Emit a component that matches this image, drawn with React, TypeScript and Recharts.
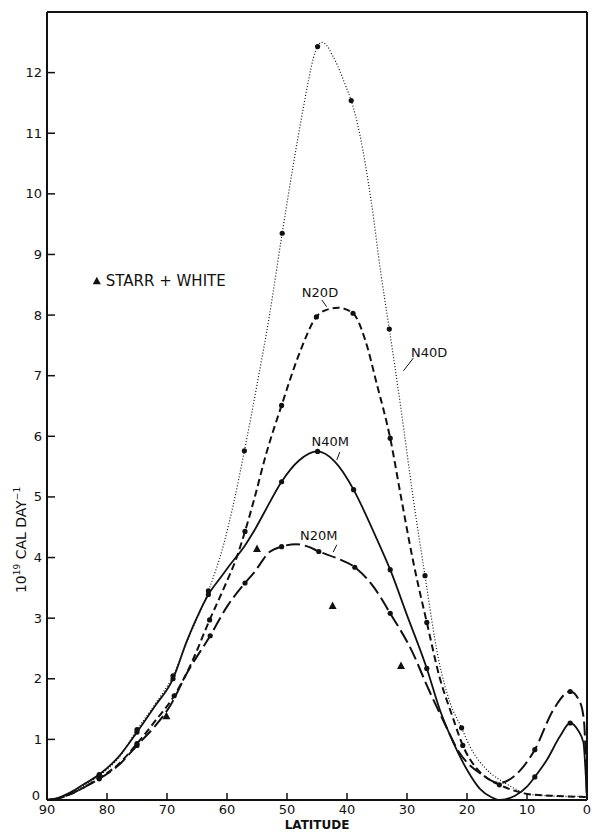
import { ComposedChart, Line, XAxis, YAxis, Scatter, ReferenceDot, ReferenceLine } from 'recharts';

type Pt = { lat: number; v: number; m?: boolean };

const latTicks = [90, 80, 70, 60, 50, 40, 30, 20, 10, 0];
const valTicks = [0, 1, 2, 3, 4, 5, 6, 7, 8, 9, 10, 11, 12];

const pts = (rows: (number | boolean)[][]): Pt[] =>
  rows.map((r) => ({ lat: r[0] as number, v: r[1] as number, m: !!r[2] }));

// N40D, dotted
const n40d = pts([
  [90, 0], [88, 0.04], [86, 0.12], [84, 0.23], [81.3, 0.4, true], [78, 0.7], [75, 1.16, true],
  [72, 1.58], [69, 2.05, true], [66.5, 2.65], [63.1, 3.45, true], [60.6, 4.2], [59, 4.85],
  [57.1, 5.76, true], [55, 6.85], [53, 7.95], [50.8, 9.35, true], [49, 10.45], [47.5, 11.3],
  [46.4, 11.88], [45.6, 12.24], [44.9, 12.43, true], [44.2, 12.5], [43.4, 12.45], [42.5, 12.3],
  [41.5, 12.1], [40.3, 11.8], [39.3, 11.54, true], [37.8, 10.95], [36, 9.9], [34.3, 8.65],
  [32.95, 7.77, true], [31, 6.45], [29, 5.0], [27, 3.7, true], [24.8, 2.35], [22.8, 1.6],
  [20.9, 1.19, true], [19.5, 0.88], [16.7, 0.5], [14, 0.3], [11.7, 0.17], [10, 0.1], [8, 0.08],
  [4, 0.06], [1, 0.06], [0, 0.05],
]);

// N20D, short dashes
const n20d = pts([
  [90, 0], [88, 0.03], [86, 0.1], [84, 0.2], [81.3, 0.36, true], [78, 0.6], [75, 0.93, true],
  [72, 1.3], [68.8, 1.72, true], [66.2, 2.2], [62.9, 2.97, true], [60.5, 3.5], [58.4, 4.0],
  [57, 4.43, true], [55.5, 4.95], [53.5, 5.7], [50.9, 6.51, true], [48, 7.35], [45.1, 7.97, true],
  [43, 8.1], [41.5, 8.12], [39, 8.03, true], [37, 7.6], [35, 6.85], [32.8, 5.97, true],
  [31, 5.0], [29, 3.95], [26.7, 2.93, true], [24.5, 2.0], [22.5, 1.4], [20.7, 0.9, true],
  [18.4, 0.52], [16.5, 0.35], [14.6, 0.25, true], [12, 0.15], [10, 0.1], [6, 0.07], [0, 0.05],
]);

// N40M, solid
const n40m = pts([
  [90, 0], [88, 0.04], [86, 0.13], [84, 0.25], [81.3, 0.42, true], [78, 0.72], [75, 1.12, true],
  [72, 1.55], [69, 2.0, true], [66.7, 2.62], [64.5, 3.12], [63.1, 3.39, true], [61, 3.68],
  [59.5, 3.88], [57, 4.2], [55.6, 4.42], [53.7, 4.76], [50.9, 5.25, true], [48, 5.6],
  [44.9, 5.75, true], [42, 5.58], [38.9, 5.12, true], [37.3, 4.8], [35, 4.3], [32.8, 3.8, true],
  [30, 3.05], [26.7, 2.17, true], [24.5, 1.48], [22.3, 0.95], [20, 0.5], [17.8, 0.18], [16, 0.05],
  [14.5, 0], [12, 0.07], [10, 0.22], [8.7, 0.38, true], [6.7, 0.66], [4.5, 1.05], [2.8, 1.27, true],
  [1.5, 1.15], [0.6, 0.95], [0.2, 0.4], [0, 0],
]);

// N20M, long dashes
const n20m = pts([
  [90, 0], [88, 0.03], [86, 0.1], [84, 0.2], [81.3, 0.35, true], [78, 0.58], [75, 0.9, true],
  [72, 1.22], [69.5, 1.55], [66.7, 2.09], [62.8, 2.71, true], [60, 3.19], [57, 3.58, true],
  [55.6, 3.74], [52.8, 4.1], [50.9, 4.18, true], [48.5, 4.22], [46.5, 4.18], [44.7, 4.1, true],
  [41.5, 3.98], [38.7, 3.84, true], [35.6, 3.52], [32.8, 3.08, true], [29, 2.42], [26.6, 1.87],
  [24, 1.32], [21.2, 0.77], [17.8, 0.44], [14.5, 0.28], [12.3, 0.38], [8.7, 0.83, true],
  [5.6, 1.49], [2.8, 1.79, true], [1.2, 1.62], [0.5, 1.3], [0.15, 0.5], [0, 0],
]);

// Starr + White
const starrWhite: Pt[] = [
  { lat: 70.1, v: 1.38 }, { lat: 55, v: 4.14 }, { lat: 42.4, v: 3.2 }, { lat: 31, v: 2.21 },
];

const curveNames = [
  { name: 'N40D', lat: 26.3, v: 7.38, lead: [[28.95, 7.29], [30.6, 7.08]] },
  { name: 'N20D', lat: 44.5, v: 8.38, lead: [[44.2, 8.25], [43.4, 8.14]] },
  { name: 'N40M', lat: 42.8, v: 5.91, lead: [[41.2, 5.74], [41.7, 5.61]] },
  { name: 'N20M', lat: 44.7, v: 4.37, lead: [[41.7, 4.21], [42.3, 4.09]] },
];

const INK = '#111';
const FONT = '"DejaVu Sans", sans-serif';

const Marker = (p: any) =>
  p.payload && p.payload.m ? (
    <circle key={p.index} cx={p.cx} cy={p.cy} r={2.6} fill={INK} />
  ) : (
    <g key={p.index} />
  );

const Tri = (p: any) => (
  <polygon
    points={`${p.cx},${p.cy - 4.5} ${p.cx - 4},${p.cy + 3} ${p.cx + 4},${p.cy + 3}`}
    fill={INK}
  />
);

// y tick labels; the 0 sits a little up and left so it clears the 90
const YTick = ({ x, y, payload }: any) => {
  const zero = payload.value === 0;
  return (
    <text x={zero ? x - 2 : x} y={y} dy={zero ? 0 : 4.5} textAnchor="end" fill={INK}
      fontFamily={FONT} fontSize={13}>
      {payload.value}
    </text>
  );
};

const YTitle = ({ viewBox }: any) => {
  const x = viewBox.x + 19;
  const y = viewBox.y + viewBox.height * 0.67;
  return (
    <text x={x} y={y} transform={`rotate(-90 ${x} ${y})`} textAnchor="middle" fill={INK}
      fontFamily={FONT} fontSize={14}>
      10<tspan dy={-6} fontSize={9}>19</tspan>
      <tspan dy={6}> CAL DAY</tspan>
      <tspan dy={-6} fontSize={9}>−1</tspan>
    </text>
  );
};

const axisLine = { stroke: INK, strokeWidth: 2 };
const tickLine = { stroke: INK, strokeWidth: 1.5 };

export default function App() {
  return (
    <div style={{ position: 'absolute', left: 0, top: 0, width: 592, height: 835, background: '#fff' }}>
      <ComposedChart width={592} height={835} margin={{ top: 11, right: 4, bottom: 5, left: 7 }}>
        <XAxis xAxisId="b" dataKey="lat" type="number" domain={[0, 90]} reversed ticks={latTicks}
          interval={0} height={30} tickSize={-7} tickMargin={12} axisLine={axisLine} tickLine={tickLine}
          tick={{ fill: INK, fontSize: 13, fontFamily: FONT }}
          label={{ value: 'LATITUDE', position: 'insideBottom', offset: 1, fill: INK, fontSize: 12, fontFamily: FONT, fontWeight: 'bold' }} />
        <XAxis xAxisId="t" orientation="top" dataKey="lat" type="number" domain={[0, 90]} reversed
          ticks={latTicks} interval={0} height={1} tickSize={-7} tick={false} axisLine={axisLine}
          tickLine={tickLine} allowDataOverflow />
        <YAxis yAxisId="l" dataKey="v" type="number" domain={[0, 13]} ticks={valTicks} interval={0}
          width={40} tickSize={-8} tickMargin={13} axisLine={axisLine} tickLine={tickLine}
          tick={<YTick />} label={<YTitle />} allowDataOverflow />
        <YAxis yAxisId="r" orientation="right" dataKey="v" type="number" domain={[0, 13]} ticks={valTicks}
          interval={0} width={1} tickSize={-7} tick={false} axisLine={axisLine} tickLine={tickLine}
          allowDataOverflow />

        <Line xAxisId="b" yAxisId="l" data={n40d} dataKey="v" type="monotone" stroke={INK}
          strokeWidth={1.2} strokeDasharray="1 2" dot={Marker} activeDot={false} isAnimationActive={false} />
        <Line xAxisId="b" yAxisId="l" data={n20d} dataKey="v" type="monotone" stroke={INK}
          strokeWidth={2} strokeDasharray="7 4" dot={Marker} activeDot={false} isAnimationActive={false} />
        <Line xAxisId="b" yAxisId="l" data={n40m} dataKey="v" type="monotone" stroke={INK}
          strokeWidth={1.8} dot={Marker} activeDot={false} isAnimationActive={false} />
        <Line xAxisId="b" yAxisId="l" data={n20m} dataKey="v" type="monotone" stroke={INK}
          strokeWidth={2} strokeDasharray="14 5" dot={Marker} activeDot={false} isAnimationActive={false} />
        <Scatter xAxisId="b" yAxisId="l" data={starrWhite} dataKey="v" shape={Tri} isAnimationActive={false} />

        {curveNames.map((c) => (
          <ReferenceDot key={c.name} xAxisId="b" yAxisId="l" x={c.lat} y={c.v} r={0}
            label={{ value: c.name, position: 'center', fill: INK, fontSize: 13, fontFamily: FONT }} />
        ))}
        {curveNames.map((c) => (
          <ReferenceLine key={c.name + 'l'} xAxisId="b" yAxisId="l" stroke={INK} strokeWidth={1}
            segment={[{ x: c.lead[0][0], y: c.lead[0][1] }, { x: c.lead[1][0], y: c.lead[1][1] }]} />
        ))}
        <ReferenceDot xAxisId="b" yAxisId="l" x={81.7} y={8.56} r={4} shape={Tri}
          label={{ value: 'STARR + WHITE', position: 'right', offset: 5, fill: INK, fontSize: 15, fontFamily: FONT }} />
      </ComposedChart>
    </div>
  );
}
